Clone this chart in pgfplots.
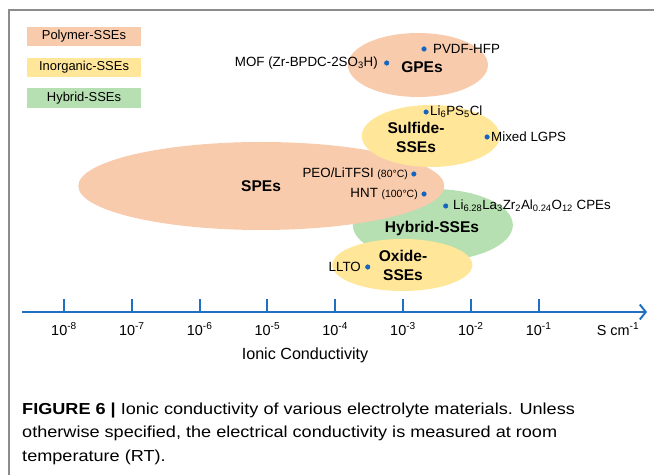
\documentclass[border=0pt]{standalone}
\usepackage{pgfplots}
\pgfplotsset{compat=1.18}
\usepackage{fontspec}
\setmainfont{Liberation Sans}
\usepackage{graphicx}
\usetikzlibrary{arrows.meta}
\definecolor{polyc}{HTML}{F8CBAD}
\definecolor{inorgc}{HTML}{FFE699}
\definecolor{hybc}{HTML}{B6DFB2}
\definecolor{axc}{RGB}{31,112,193}
\definecolor{dotc}{RGB}{21,101,192}
\definecolor{framec}{HTML}{8C8C8C}
\begin{document}
\begin{tikzpicture}
\begin{axis}[scale only axis, width=654bp, height=475bp,
  xmin=-8.944, xmax=0.702, ymin=0, ymax=475,
  hide axis, clip=false]
% frame
\draw[framec, line width=1.5bp] (axis cs:-8.811,0) -- (axis cs:-8.811,465) -- (axis cs:0.702,465);
% legend boxes
\fill[polyc] (axis cs:-8.546,429) rectangle (axis cs:-6.864,448);
\fill[inorgc] (axis cs:-8.546,398) rectangle (axis cs:-6.864,417);
\fill[hybc] (axis cs:-8.546,367) rectangle (axis cs:-6.864,387);
\node[font=\fontsize{13}{15}\selectfont] at (axis cs:-7.705,438.5) {Polymer-SSEs};
\node[font=\fontsize{13}{15}\selectfont] at (axis cs:-7.705,407.5) {Inorganic-SSEs};
\node[font=\fontsize{13}{15}\selectfont] at (axis cs:-7.705,377) {Hybrid-SSEs};
% regions
\fill[hybc] (axis cs:-2.56,250) ellipse [x radius=80bp, y radius=36bp];
\fill[polyc] (axis cs:-5.09,289) ellipse [x radius=183bp, y radius=44bp];
\fill[inorgc] (axis cs:-2.59,339) ellipse [x radius=69bp, y radius=31bp];
\fill[inorgc] (axis cs:-3.01,210) ellipse [x radius=70bp, y radius=26bp];
\fill[polyc] (axis cs:-2.78,410) ellipse [x radius=70bp, y radius=32bp];
% data points
\addplot[only marks, mark=*, mark size=2.3bp, dotc] table {
x y
-2.69 426
-3.24 412
-2.66 363
-1.76 338
-2.84 301
-2.69 281
-2.37 269
-3.52 208
};
% labels
\begin{scope}[every node/.style={font=\fontsize{13.4}{15}\selectfont, inner sep=0pt}]
\node[anchor=west] at (axis cs:-2.558,426) {PVDF-HFP};
\node[anchor=east] at (axis cs:-3.369,412) {MOF (Zr-BPDC-2SO\textsubscript{3}H)};
\node[anchor=west] at (axis cs:-2.602,363) {Li\textsubscript{6}PS\textsubscript{5}Cl};
\node[anchor=west] at (axis cs:-1.702,338) {Mixed LGPS};
\node[anchor=east] at (axis cs:-2.926,301) {PEO/LiTFSI {\fontsize{10.5}{12}\selectfont(80°C)}};
\node[anchor=east] at (axis cs:-2.779,281) {HNT {\fontsize{10.5}{12}\selectfont(100°C)}};
\node[anchor=west] at (axis cs:-2.263,269) {Li\textsubscript{6.28}La\textsubscript{3}Zr\textsubscript{2}Al\textsubscript{0.24}O\textsubscript{12} CPEs};
\node[anchor=east] at (axis cs:-3.619,208) {LLTO};
\end{scope}
\begin{scope}[every node/.style={font=\bfseries\fontsize{15.6}{19}\selectfont, inner sep=0pt, align=center}]
\node at (axis cs:-2.72,408) {GPEs};
\node at (axis cs:-2.808,337.5) {Sulfide-\\SSEs};
\node at (axis cs:-5.094,289) {SPEs};
\node at (axis cs:-2.572,247) {Hybrid-SSEs};
\node at (axis cs:-3.0,209.5) {Oxide-\\SSEs};
\end{scope}
% conductivity axis
\addplot[axc, line width=2bp, -{Straight Barb[length=6bp,width=15bp]}] coordinates {(-8.619,163) (0.60,163)};
\addplot[axc, line width=2bp, unbounded coords=jump] coordinates {
(-8,163) (-8,176) (-8,nan)
(-7,163) (-7,176) (-7,nan)
(-6,163) (-6,176) (-6,nan)
(-5,163) (-5,176) (-5,nan)
(-4,163) (-4,176) (-4,nan)
(-3,163) (-3,176) (-3,nan)
(-2,163) (-2,176) (-2,nan)
(-1,163) (-1,176)
};
\pgfplotsinvokeforeach{-8,...,-1}{
  \node[font=\fontsize{14.5}{16}\selectfont] at (axis cs:#1,146) {10\textsuperscript{#1}};
}
\node[font=\fontsize{14.5}{16}\selectfont] at (axis cs:0.171,146) {S cm\textsuperscript{-1}};
\node[font=\fontsize{16.2}{18}\selectfont] at (axis cs:-4.445,120) {Ionic Conductivity};
% caption
\begin{scope}[every node/.style={anchor=base west, inner sep=0pt, font=\fontsize{16}{18}\selectfont}]
\node at (axis cs:-8.619,60) {\scalebox{1.135}[1]{\textbf{FIGURE 6 |} Ionic conductivity of various electrolyte materials. Unless}};
\node at (axis cs:-8.619,37) {\scalebox{1.135}[1]{otherwise specified, the electrical conductivity is measured at room}};
\node at (axis cs:-8.619,14) {\scalebox{1.135}[1]{temperature (RT).}};
\end{scope}
\end{axis}
\pgfresetboundingbox
\path[use as bounding box] (current axis.south west) rectangle (current axis.north east);
\end{tikzpicture}
\end{document}
